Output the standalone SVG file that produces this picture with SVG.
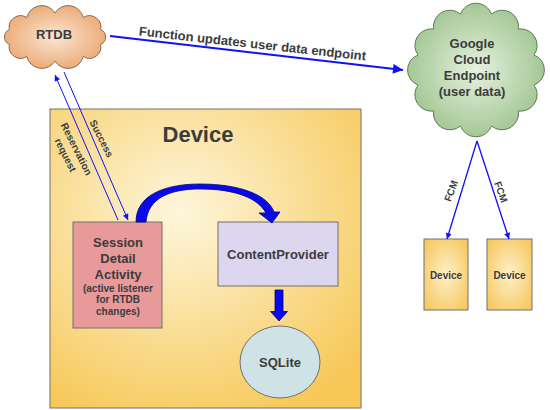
<svg xmlns="http://www.w3.org/2000/svg" width="550" height="410" viewBox="0 0 550 410">
<defs>
<style>
.t{font-family:"Liberation Sans",Arial,sans-serif;font-weight:bold;fill:#3c3c3c;text-anchor:middle}
.blue{stroke:#1010ff;fill:none}
.box{stroke:#707070;stroke-width:1}
</style>
<radialGradient id="gYellow" cx="0.42" cy="0.35" r="0.75">
<stop offset="0" stop-color="#fdf6dc"/>
<stop offset="1" stop-color="#f7c858"/>
</radialGradient>
<radialGradient id="gYellowS" cx="0.5" cy="0.5" r="0.7">
<stop offset="0" stop-color="#fdf0c8"/>
<stop offset="1" stop-color="#f6c455"/>
</radialGradient>
<radialGradient id="gOrange" cx="0.5" cy="0.5" r="0.6">
<stop offset="0" stop-color="#fbe6d4"/>
<stop offset="1" stop-color="#e9a269"/>
</radialGradient>
<radialGradient id="gGreen" cx="0.5" cy="0.5" r="0.6">
<stop offset="0" stop-color="#e6f1e0"/>
<stop offset="1" stop-color="#97bf86"/>
</radialGradient>
<marker id="aBig" viewBox="0 0 10 10" refX="10" refY="5" markerWidth="13" markerHeight="10" markerUnits="userSpaceOnUse" orient="auto">
<path d="M0,0 L10,5 L0,10 z" fill="#1010ff"/>
</marker>
<marker id="aSmall" viewBox="0 0 10 10" refX="10" refY="5" markerWidth="8" markerHeight="6" markerUnits="userSpaceOnUse" orient="auto">
<path d="M0,0 L10,5 L0,10 z" fill="#1010ff"/>
</marker>
</defs>

<g id="device-main">
<rect x="50" y="109" width="311" height="299" fill="url(#gYellow)" class="box"/>
<text class="t" x="198" y="142" font-size="22">Device</text>
</g>

<g id="rtdb">
<path d="M100.6,29.6 A8,8 0 0 1 100.6,44.4 A11.4,11.4 0 0 1 83.2,56.4 A15.4,15.4 0 0 1 55,61 A15.4,15.4 0 0 1 26.8,56.4 A11.4,11.4 0 0 1 9.4,44.4 A8,8 0 0 1 9.4,29.6 A11.4,11.4 0 0 1 26.8,17.6 A15.4,15.4 0 0 1 55,13 A15.4,15.4 0 0 1 83.2,17.6 A11.4,11.4 0 0 1 100.6,29.6 Z" fill="url(#gOrange)" stroke="#8a6a50" stroke-width="1"/>
<text class="t" x="54" y="38.5" font-size="13">RTDB</text>
</g>

<g id="google-cloud">
<path d="M534,55 A16,16 0 0 1 534,85 A16.5,16.5 0 0 1 518.4,111 A16.5,16.5 0 0 1 491.5,126 A16.5,16.5 0 0 1 460.5,126 A16.5,16.5 0 0 1 433.6,111 A16.5,16.5 0 0 1 418,85 A16,16 0 0 1 418,55 A16.5,16.5 0 0 1 433.6,29 A16.5,16.5 0 0 1 460.5,14 A16.5,16.5 0 0 1 491.5,14 A16.5,16.5 0 0 1 518.4,29 A16.5,16.5 0 0 1 534,55 Z" fill="url(#gGreen)" stroke="#5e7a55" stroke-width="1"/>
<text class="t" font-size="13"><tspan x="472" y="47.5">Google</tspan><tspan x="472" y="63.5">Cloud</tspan><tspan x="472" y="79.5">Endpoint</tspan><tspan x="472" y="95.5">(user data)</tspan></text>
</g>

<g id="session-detail">
<rect x="73" y="222" width="89" height="106" fill="#e8999a" class="box"/>
<text class="t" font-size="13"><tspan x="118" y="246.5">Session</tspan><tspan x="118" y="262.5">Detail</tspan><tspan x="118" y="278.5">Activity</tspan></text>
<text class="t" font-size="10"><tspan x="118" y="291.5">(active listener</tspan><tspan x="118" y="303">for RTDB</tspan><tspan x="118" y="314.5">changes)</tspan></text>
</g>

<g id="content-provider">
<rect x="218" y="222" width="120" height="64" fill="#dcd6ee" class="box"/>
<text class="t" x="278" y="258.5" font-size="13">ContentProvider</text>
</g>

<g id="sqlite">
<ellipse cx="280" cy="362" rx="40" ry="36" fill="#cfe2e6" stroke="#707070" stroke-width="1"/>
<text class="t" x="280" y="367" font-size="13">SQLite</text>
</g>

<g id="device-1">
<rect x="424" y="239" width="44" height="71" fill="url(#gYellowS)" class="box"/>
<text class="t" x="446" y="278.5" font-size="10">Device</text>
</g>

<g id="device-2">
<rect x="487" y="239" width="45" height="71" fill="url(#gYellowS)" class="box"/>
<text class="t" x="509.5" y="278.5" font-size="10">Device</text>
</g>

<g id="connectors">
<line x1="110" y1="36" x2="403" y2="70" class="blue" stroke-width="2" marker-end="url(#aBig)"/>
<text class="t" font-size="13" transform="translate(252,48) rotate(6.3)">Function updates user data endpoint</text>

<line x1="118" y1="220" x2="55" y2="75" class="blue" stroke-width="1" marker-end="url(#aSmall)"/>
<line x1="64" y1="72" x2="128" y2="220" class="blue" stroke-width="1" marker-end="url(#aSmall)"/>
<text class="t" font-size="10" transform="translate(76.5,149) rotate(63)" y="3.5">Reservation</text>
<text class="t" font-size="10" transform="translate(65.5,155) rotate(63)" y="3.5">request</text>
<text class="t" font-size="10" transform="translate(101.5,138.5) rotate(63)" y="3.5">Success</text>

<path d="M136,222 C136,195 165,184 200,184 C240,184 268,195 274,212 L280,212 L272,223 L259,213 L266,213 C258,198 235,189 200,189 C170,189 148,198 146,222 Z" fill="#0a0ae8" stroke="#000080" stroke-width="0.8"/>

<path d="M275,290 L283,290 L283,311.5 L287.5,311.5 L279,321 L270.5,311.5 L275,311.5 Z" fill="#0a0ae8" stroke="#000080" stroke-width="0.8"/>

<line x1="477" y1="141" x2="447" y2="239" class="blue" stroke-width="1.3" marker-end="url(#aSmall)"/>
<line x1="477" y1="141" x2="509" y2="239" class="blue" stroke-width="1.3" marker-end="url(#aSmall)"/>
<text class="t" font-size="10" transform="translate(451,191) rotate(-70)" y="3.5">FCM</text>
<text class="t" font-size="10" transform="translate(501,192) rotate(70)" y="3.5">FCM</text>
</g>
</svg>
